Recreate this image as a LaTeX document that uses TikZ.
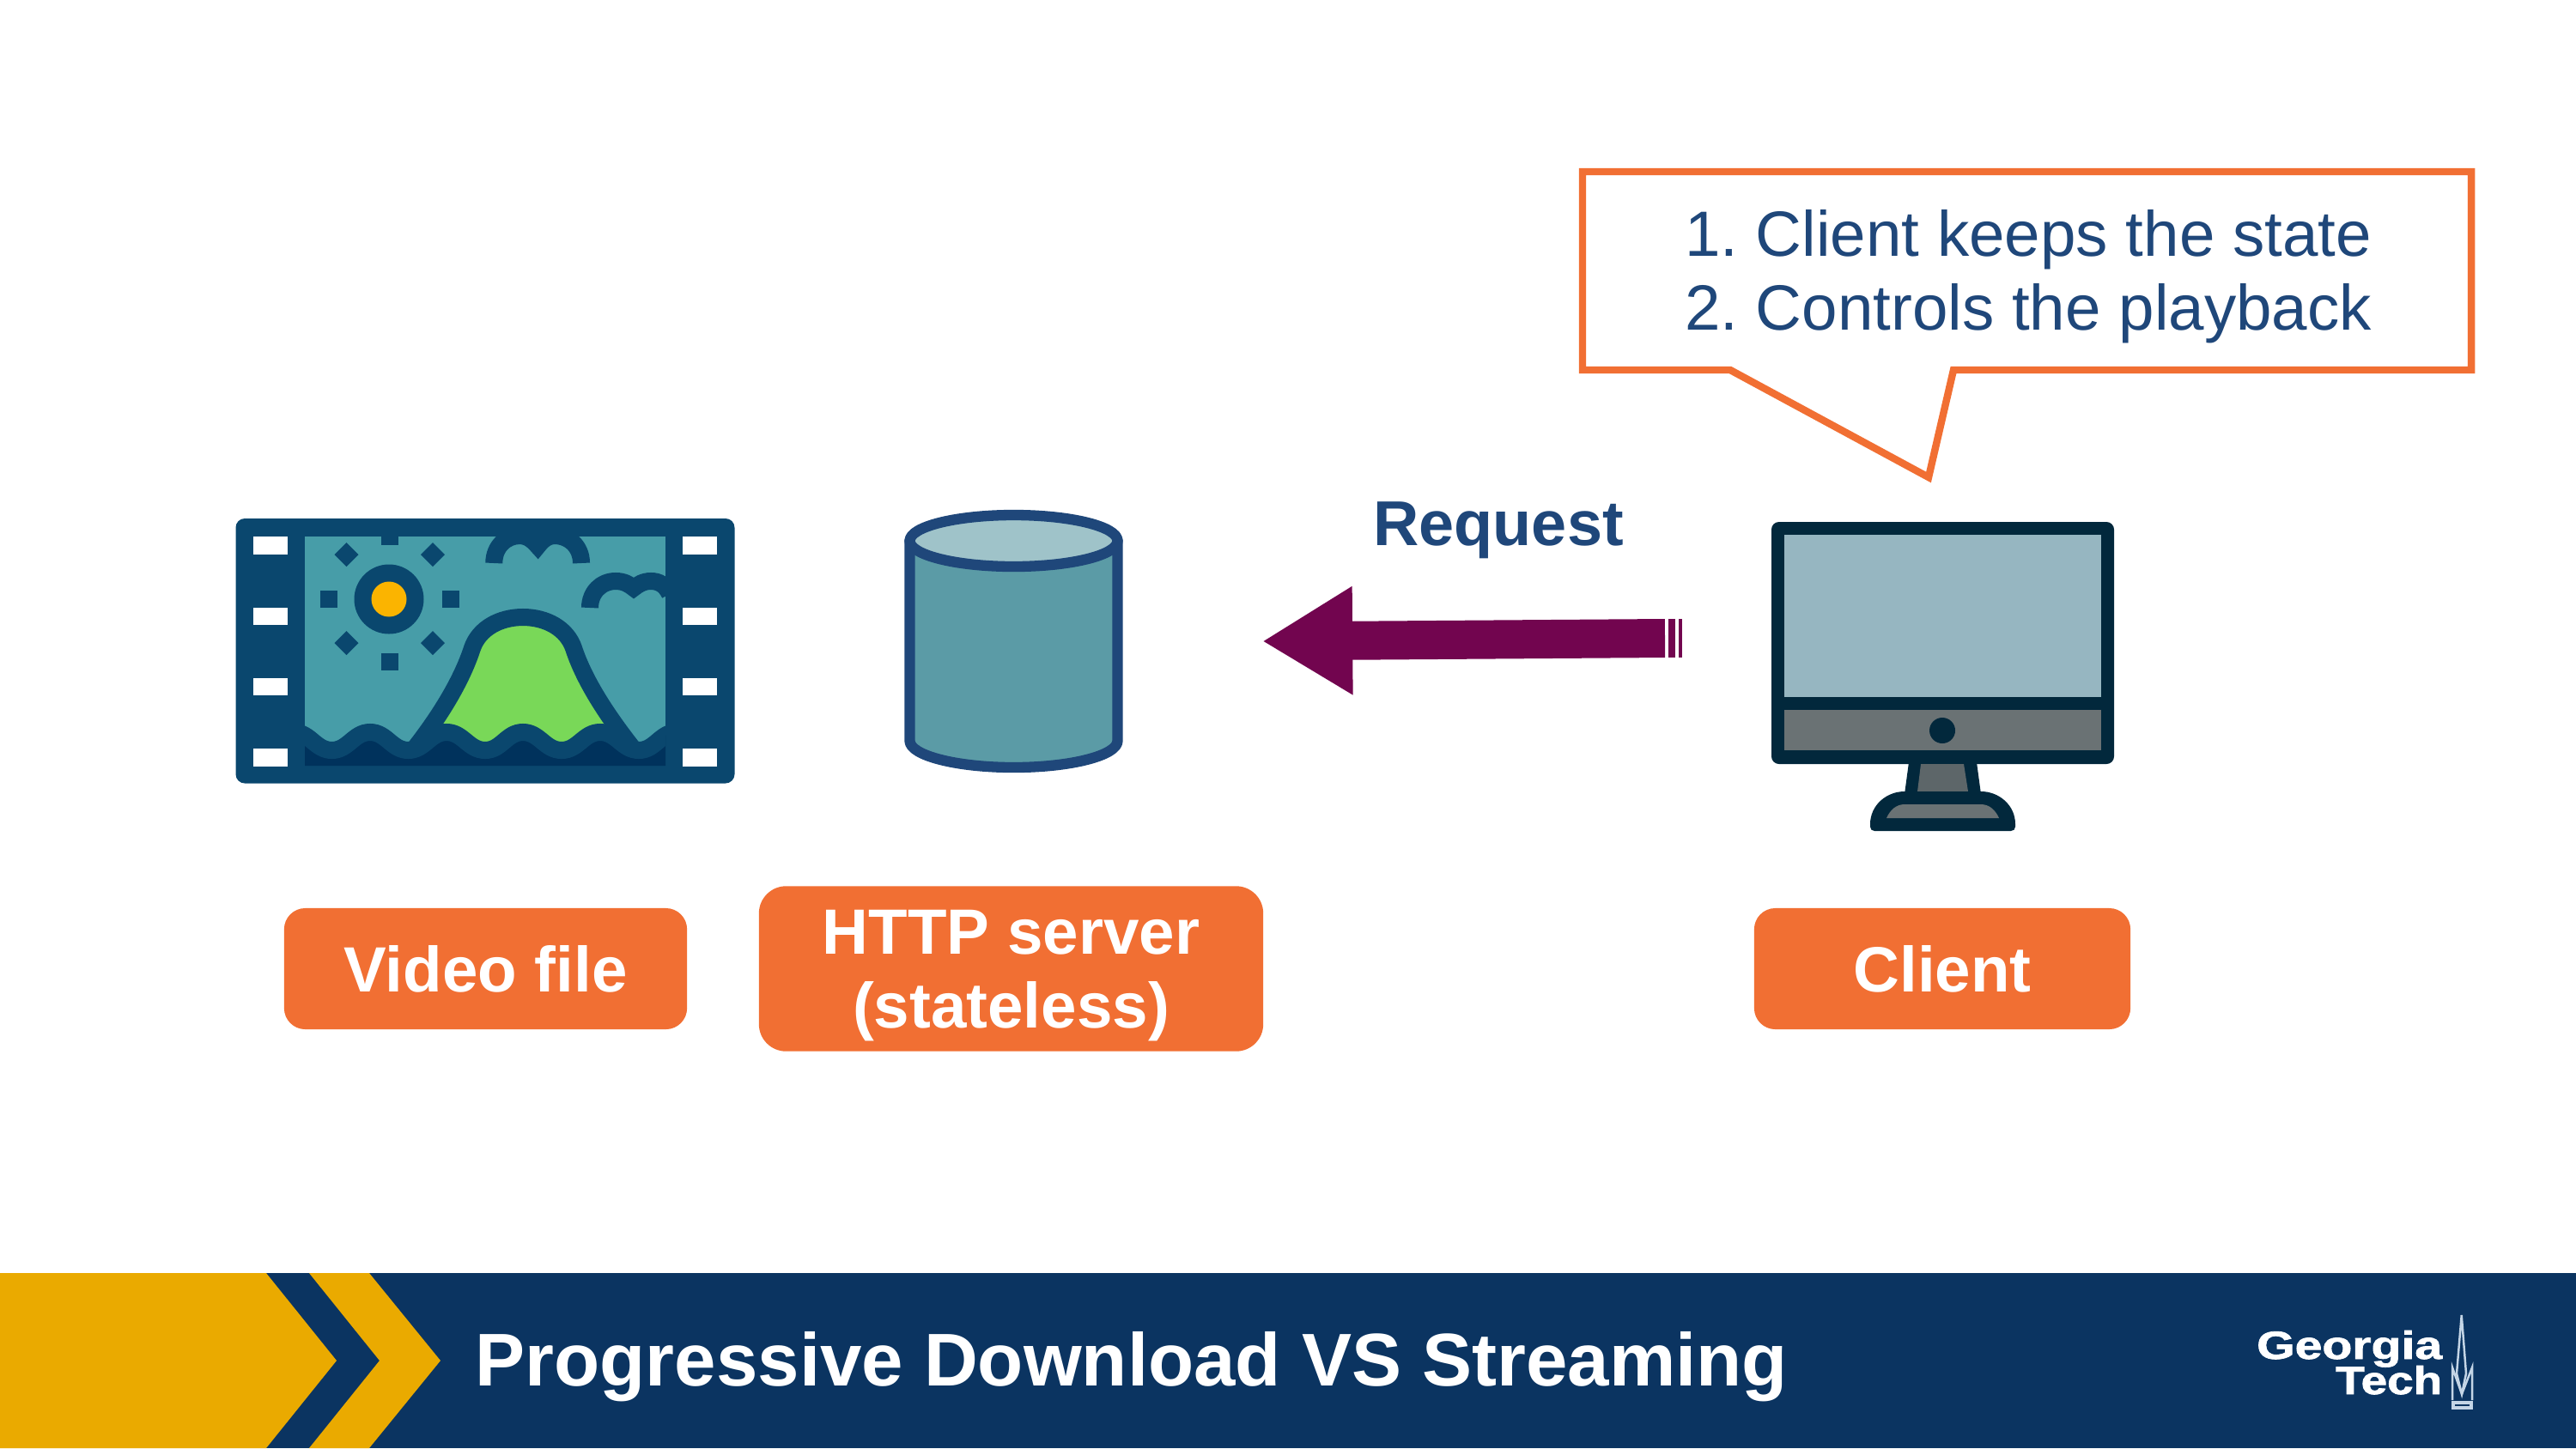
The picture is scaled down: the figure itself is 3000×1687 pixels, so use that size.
\documentclass[tikz,border=0pt]{standalone}
\usepackage{fontspec}
\setmainfont{Liberation Sans}
\newfontfamily\gtfont[BoldFeatures={FakeBold=1.5}]{Liberation Sans}
\frenchspacing
\usetikzlibrary{positioning, arrows.meta}
\definecolor{cBand}{RGB}{11, 52, 97}
\definecolor{cGold}{RGB}{234, 170, 0}
\definecolor{cOrange}{RGB}{241, 111, 51}
\definecolor{cInk}{RGB}{31, 71, 122}
\definecolor{cRequest}{RGB}{114, 5, 79}
\definecolor{cFilm}{RGB}{10, 71, 110}
\definecolor{cSky}{RGB}{71, 157, 168}
\definecolor{cHill}{RGB}{121, 216, 88}
\definecolor{cSun}{RGB}{251, 180, 0}
\definecolor{cWater}{RGB}{0, 50, 92}
\definecolor{cBody}{RGB}{91, 155, 166}
\definecolor{cLid}{RGB}{159, 195, 201}
\definecolor{cDesk}{RGB}{2, 40, 60}
\definecolor{cScreen}{RGB}{150, 182, 193}
\definecolor{cChin}{RGB}{106, 114, 116}
\definecolor{cNeck}{RGB}{93, 102, 105}
\definecolor{cSpire}{RGB}{196, 213, 230}

\begin{document}
\begin{tikzpicture}[
    x=0.01cm,
    y=-0.01cm,
    font=\fontsize{21}{24.5}\selectfont,
    labelbox/.style={fill=cOrange, text=white, rounded corners=7pt, align=center, font=\fontsize{21.2}{24.5}\selectfont\bfseries},
    filmline/.style={draw=cFilm, line width=5.7pt},
    serverline/.style={draw=cInk, line width=3.5pt, line join=round},
    requestline/.style={draw=cRequest, line width=12.8pt}
]

    % --- Macros for the film strip ---
    \newcommand{\filmHole}[2]{
        \fill[white] (#1, #2) rectangle ++(40, 20.5);
    }
    \newcommand{\filmDot}[2]{
        \fill[cFilm] (#1-14, #2) -- (#1, #2-14) -- (#1+14, #2) -- (#1, #2+14) -- cycle;
    }
    \newcommand{\filmWave}{(342,853) to[out=0,in=180] (386.5,874) to[out=0,in=180] (431,853) to[out=0,in=180] (475.5,874) to[out=0,in=180] (520,853) to[out=0,in=180] (565,874) to[out=0,in=180] (609,853) to[out=0,in=180] (654,874) to[out=0,in=180] (699,853) to[out=0,in=180] (744,874) to[out=0,in=180] (788,853)}

    \useasboundingbox (0,0) rectangle (3000,1687);

    % Film strip
    \fill[cFilm, rounded corners=3pt] (274.5,604) rectangle (855.5,912.5);
    \filmHole{295}{625}
    \filmHole{295}{707.5}
    \filmHole{295}{789.5}
    \filmHole{295}{872}
    \filmHole{795}{625}
    \filmHole{795}{707.5}
    \filmHole{795}{789.5}
    \filmHole{795}{872}

    \begin{scope}
        \clip (355,625) rectangle (775,892);
        \fill[cSky] (355,625) rectangle (775,892);

        % Sun
        \fill[cFilm] (453,698) circle[radius=40.5];
        \fill[cSun] (453,698) circle[radius=20.5];
        \fill[cFilm] (443.5,625) rectangle (463.5,635);
        \fill[cFilm] (443.5,760.5) rectangle (463.5,781);
        \fill[cFilm] (372.5,688) rectangle (392.5,708);
        \fill[cFilm] (515,688) rectangle (534.5,708);
        \filmDot{403.5}{646}
        \filmDot{504}{646}
        \filmDot{403.5}{749}
        \filmDot{504}{749}

        % Clouds
        \draw[filmline] (575.3,656) .. controls (575.3,636) and (590,624) .. (605,624) .. controls (615,624) and (621,630) .. (626.3,636) .. controls (631,630) and (637,624) .. (646,624) .. controls (662,624) and (677,636) .. (677,656);
        \draw[filmline] (687,708) .. controls (687,690) and (700,677) .. (717,677) .. controls (727,677) and (733,681) .. (738,685) .. controls (743,681) and (749,677) .. (758,677) .. controls (767,677) and (775,681) .. (780,692);

        % Hill
        \draw[filmline, fill=cHill] (478,878) .. controls (510,838) and (537,795) .. (550,755) .. controls (558,732) and (582,719) .. (609,719) .. controls (636,719) and (660,732) .. (668,755) .. controls (681,795) and (710,838) .. (742,878);

        % Water
        \fill[cWater] \filmWave -- (788,892) -- (342,892) -- cycle;
        \draw[filmline] \filmWave;
    \end{scope}

    % HTTP server
    \draw[serverline, fill=cBody] (1059.5,630) -- (1059.5,863) .. controls (1059.5,880) and (1113.7,894) .. (1180.5,894) .. controls (1247.3,894) and (1301.5,880) .. (1301.5,863) -- (1301.5,630) -- cycle;
    \draw[serverline, fill=cLid] (1180.5,630) ellipse [x radius=121, y radius=30];

    % Client monitor
    \fill[cDesk, rounded corners=2.5pt] (2063,608) rectangle (2462,890);
    \fill[cScreen] (2078,623) rectangle (2447,812);
    \fill[cChin] (2078,827) rectangle (2447,874);
    \fill[cDesk] (2262,851) circle[radius=15];
    \fill[cDesk] (2223,888) -- (2302,888) -- (2307,925) -- (2218,925) -- cycle;
    \fill[cNeck] (2237,890) -- (2287,890) -- (2292,922) -- (2233,922) -- cycle;
    \fill[cDesk] (2183,968) .. controls (2180,968) and (2178,966) .. (2178,963) -- (2178,960) .. controls (2178,938) and (2197,922) .. (2218,922) -- (2307,922) .. controls (2328,922) and (2347,938) .. (2347,960) -- (2347,963) .. controls (2347,966) and (2345,968) .. (2342,968) -- cycle;
    \fill[cChin] (2197,953) .. controls (2201,944) and (2208,937) .. (2218,937) -- (2307,937) .. controls (2317,937) and (2324,944) .. (2328,953) -- cycle;

    % Labels
    \node (videolabel) at (565.5,1128.5) [labelbox, minimum width=4.69cm, minimum height=1.41cm] {Video file};
    \node (serverlabel) at (1177.5,1128.5) [labelbox, minimum width=5.87cm, minimum height=1.91cm, rounded corners=9pt] {\strut\raisebox{-2pt}{HTTP server}\\\raisebox{-2pt}{(stateless)}};
    \node (clientlabel) at (2262,1128.5) [labelbox, minimum width=4.38cm, minimum height=1.41cm] {Client};

    % Request arrow
    \coordinate (reqtail) at (1939,743.5);
    \coordinate (reqtip) at (1470,747);
    \draw[requestline, -{Triangle[length=29.9pt, width=33.8pt]}] (reqtail) -- (reqtip);
    \draw[requestline] (1943.4,743.4) -- (1951.4,743.4);
    \draw[requestline] (1955,743.4) -- (1959.3,743.4);
    \node (request) at (1745,618) [text=cInk, font=\fontsize{21}{24.5}\selectfont\bfseries] {Request};

    % Callout
    \draw[draw=cOrange, line width=2.4pt, fill=white] (1843,200) -- (2878,200) -- (2878,431) -- (2275,431) -- (2246,556) -- (2015,431) -- (1843,431) -- cycle;
    \node (callout) at (2362,322) [text=cInk, align=center, font=\fontsize{21.2}{24.5}\selectfont] {1. Client keeps the state\\2. Controls the playback};

    % --- Footer band ---
    \fill[cBand] (0,1483) rectangle (3000,1687);
    \fill[cGold] (0,1483) -- (310,1483) -- (392,1585) -- (310,1687) -- (0,1687) -- cycle;
    \fill[cGold] (360,1483) -- (430,1483) -- (513,1585) -- (430,1687) -- (360,1687) -- (442,1585) -- cycle;
    \node (title) at (553,1592) [anchor=west, inner sep=0pt, text=white, font=\fontsize{24.75}{28}\selectfont\bfseries] {Progressive Download VS Streaming};

    % Logo
    \node (logogeorgia) at (2845,1583) [anchor=base east, inner sep=0pt, xscale=1.25, text=white, font=\fontsize{13}{13}\selectfont\gtfont\bfseries] {Georgia};
    \node (logotech) at (2845,1624) [anchor=base east, inner sep=0pt, xscale=1.2, text=white, font=\fontsize{13}{13}\selectfont\gtfont\bfseries] {Tech};
    \draw[cSpire, line width=0.7pt] (2861,1600) -- (2866.7,1532) -- (2872,1600) -- (2867,1624) -- cycle;
    \draw[cSpire, line width=0.7pt] (2856,1631) -- (2856,1593) -- (2867,1624) -- (2879,1593) -- (2879,1631);
    \draw[cSpire, line width=0.9pt] (2857,1634) rectangle (2878,1640);

\end{tikzpicture}
\end{document}
